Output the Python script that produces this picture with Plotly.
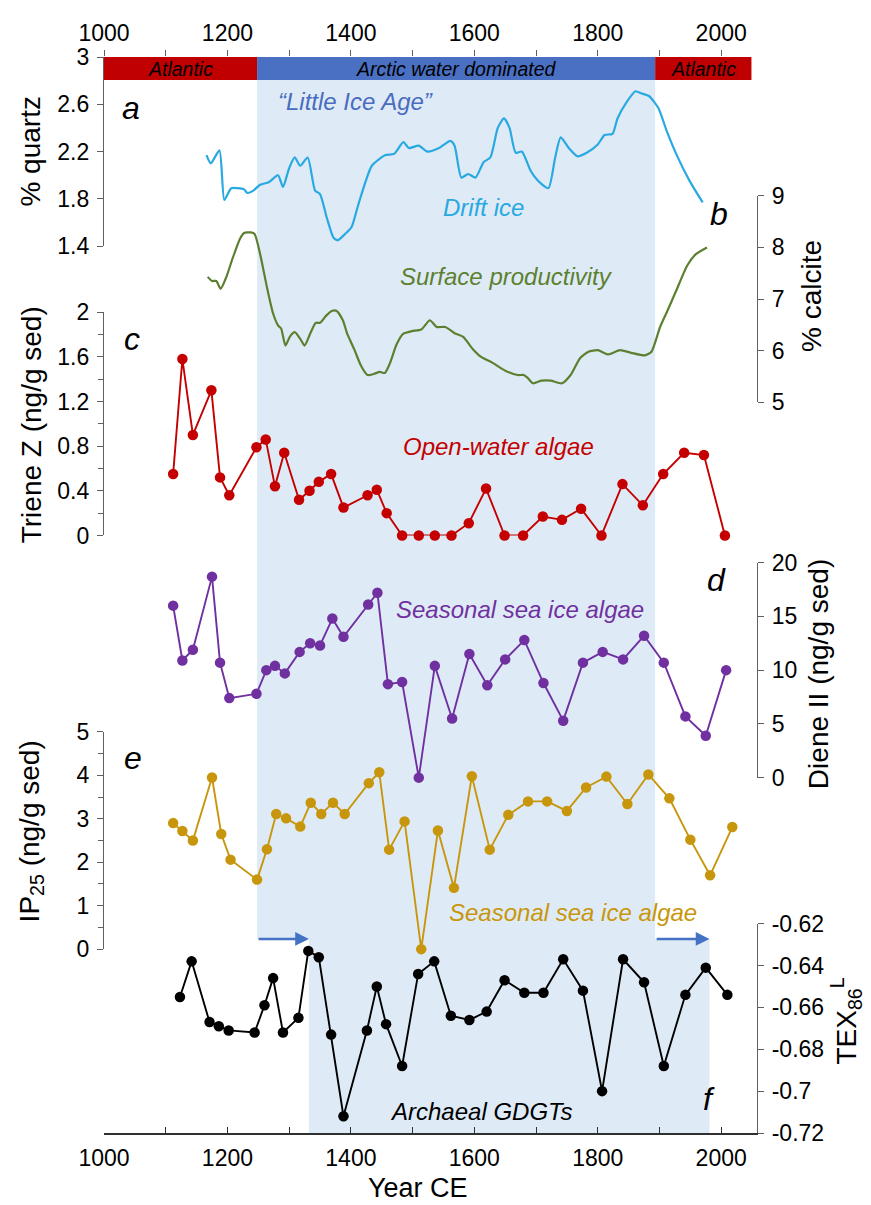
import plotly.graph_objects as go

# ---------------- data ----------------
drift_year = [1166,1173,1187,1195,1206,1216,1227,1232,1242,1253,1267,1282,1290,1300,1309,1318,1330,1342,1350,1361,1372,1379,1390,1401,1412,1434,1456,1470,1485,1494,1510,1524,1543,1561,1568,1579,1590,1602,1615,1626,1638,1648,1657,1667,1677,1691,1702,1720,1731,1740,1753,1767,1782,1800,1811,1824,1832,1847,1861,1872,1883,1898,1912,1927,1949,1970]
drift_quartz = [2.17,2.10,2.21,1.79,1.89,1.89,1.88,1.85,1.87,1.92,1.94,2.00,1.90,2.06,2.15,2.08,2.15,1.87,1.84,1.64,1.47,1.45,1.50,1.56,1.75,2.08,2.17,2.18,2.28,2.23,2.25,2.20,2.23,2.29,2.25,1.98,2.01,1.98,2.11,2.15,2.40,2.48,2.40,2.19,2.20,2.04,1.96,1.89,2.15,2.32,2.23,2.16,2.19,2.26,2.34,2.35,2.48,2.62,2.71,2.69,2.67,2.57,2.37,2.18,1.95,1.77]

prod_year = [1168,1175,1182,1189,1198,1209,1220,1227,1238,1244,1253,1264,1274,1282,1287,1294,1301,1309,1318,1325,1334,1343,1350,1360,1369,1377,1387,1394,1405,1416,1427,1437,1447,1455,1463,1474,1485,1499,1514,1528,1539,1553,1568,1582,1597,1611,1629,1651,1670,1680,1686,1695,1709,1724,1742,1756,1771,1785,1800,1817,1836,1854,1876,1887,1901,1912,1927,1945,1959,1977]
prod_calcite = [7.43,7.35,7.35,7.20,7.42,7.81,8.16,8.28,8.29,8.26,7.87,7.23,6.72,6.49,6.43,6.10,6.27,6.36,6.23,6.10,6.33,6.54,6.54,6.68,6.77,6.77,6.59,6.33,6.04,5.72,5.53,5.55,5.59,5.57,5.75,6.12,6.33,6.38,6.41,6.59,6.46,6.46,6.34,6.27,6.04,5.88,5.77,5.61,5.53,5.53,5.48,5.37,5.42,5.42,5.37,5.53,5.85,5.98,6.01,5.93,6.01,5.96,5.91,5.98,6.46,6.75,7.16,7.65,7.87,8.00]

triene_year = [1112,1127,1144,1174,1188,1203,1247,1262,1277,1292,1316,1333,1348,1368,1388,1427,1442,1458,1483,1510,1536,1563,1591,1619,1649,1679,1711,1742,1773,1806,1840,1873,1906,1940,1972,2006]
triene_z = [0.55,1.58,0.90,1.30,0.52,0.36,0.79,0.86,0.44,0.74,0.32,0.40,0.48,0.55,0.25,0.36,0.41,0.20,0,0,0,0,0.11,0.42,0,0,0.17,0.14,0.24,0,0.46,0.27,0.55,0.74,0.72,0]

diene_year = [1112,1127,1144,1175,1188,1203,1247,1263,1277,1293,1317,1334,1350,1370,1388,1428,1443,1460,1483,1510,1536,1564,1592,1621,1650,1681,1712,1744,1776,1808,1841,1875,1907,1942,1975,2008]
diene_ii = [16.0,10.9,11.9,18.7,10.7,7.4,7.8,10.0,10.4,9.7,11.7,12.5,12.3,14.8,13.1,16.1,17.2,8.7,8.9,0,10.4,5.5,11.5,8.6,11.0,12.8,8.8,5.3,10.7,11.7,11.0,13.2,10.7,5.7,3.9,10.0]

ip25_year = [1112,1127,1144,1175,1190,1205,1248,1264,1279,1295,1318,1335,1352,1371,1390,1429,1446,1462,1487,1514,1541,1567,1596,1625,1655,1687,1718,1750,1781,1814,1848,1882,1916,1950,1982,2018]
ip25 = [2.90,2.72,2.50,3.95,2.65,2.06,1.60,2.30,3.11,3.01,2.82,3.37,3.11,3.37,3.11,3.82,4.07,2.29,2.94,0,2.73,1.41,3.98,2.29,3.09,3.40,3.40,3.18,3.72,3.97,3.34,4.02,3.47,2.52,1.70,2.81]

tex_year = [1123,1142,1171,1186,1202,1244,1260,1274,1290,1315,1331,1348,1368,1388,1426,1442,1457,1483,1509,1535,1562,1592,1620,1649,1681,1712,1744,1776,1807,1841,1875,1907,1942,1975,2010]
tex86l = [-0.655,-0.638,-0.667,-0.669,-0.671,-0.672,-0.659,-0.646,-0.672,-0.665,-0.633,-0.636,-0.673,-0.712,-0.671,-0.650,-0.668,-0.688,-0.644,-0.638,-0.664,-0.666,-0.662,-0.647,-0.653,-0.653,-0.637,-0.652,-0.700,-0.637,-0.648,-0.688,-0.654,-0.641,-0.654]

period_start = [1000, 1248, 1893]
period_end = [1248, 1893, 2049]
period_label = ["Atlantic", "Arctic water dominated", "Atlantic"]
lia_start, lia_end = 1248, 1893          # "Little Ice Age" (upper records)
lia_lag_start, lia_lag_end = 1332, 1981  # lagged shading for TEX86L

year_ticks = [1000, 1200, 1400, 1600, 1800, 2000]
year_ticklabels = ["1000", "1200", "1400", "1600", "1800", "2000"]
quartz_ticks = [1.4, 1.8, 2.2, 2.6, 3]
quartz_ticklabels = ["1.4", "1.8", "2.2", "2.6", "3"]
calcite_ticks = [5, 6, 7, 8, 9]
triene_ticks = [0, 0.4, 0.8, 1.2, 1.6, 2]
triene_ticklabels = ["0", "0.4", "0.8", "1.2", "1.6", "2"]
diene_ticks = [0, 5, 10, 15, 20]
ip25_ticks = [0, 1, 2, 3, 4, 5]
tex_ticks = [-0.72, -0.70, -0.68, -0.66, -0.64, -0.62]
tex_ticklabels = ["-0.72", "-0.7", "-0.68", "-0.66", "-0.64", "-0.62"]

# ---------------- styling ----------------
OFF = 8                       # default page margin of the html body
W, H = 871 - OFF, 1205 - OFF
L, R, T, B = 104 - OFF, 114, 52 - OFF, 72
PW, PH = W - L - R, H - T - B
FONT = "Liberation Sans, Arial, sans-serif"
AX = "#606060"
TICKF = 23

def px(xp):   # screen pixel -> paper x
    return (xp - OFF - L) / PW

def py(yp):   # screen pixel -> paper y
    return (H - B - (yp - OFF)) / PH

C_DRIFT = "#29a9e1"
C_PROD = "#5c8030"
C_RED = "#c40000"
C_PURP = "#7030a0"
C_GOLD = "#c8960c"
C_BLACK = "#000000"
C_SHADE = "#deebf6"
C_BAR_RED = "#c00000"
C_BAR_BLUE = "#4a70c4"

fig = go.Figure()

fig.add_trace(go.Scatter(x=drift_year, y=drift_quartz, mode="lines", yaxis="y",
                         line=dict(color=C_DRIFT, width=2.2, shape="spline", smoothing=0.6),
                         cliponaxis=False, showlegend=False))
fig.add_trace(go.Scatter(x=prod_year, y=prod_calcite, mode="lines", yaxis="y2",
                         line=dict(color=C_PROD, width=2.2, shape="spline", smoothing=0.6),
                         cliponaxis=False, showlegend=False))
for xs, ys, ax, col in [(triene_year, triene_z, "y3", C_RED),
                        (diene_year, diene_ii, "y4", C_PURP),
                        (ip25_year, ip25, "y5", C_GOLD),
                        (tex_year, tex86l, "y6", C_BLACK)]:
    fig.add_trace(go.Scatter(x=xs, y=ys, mode="lines+markers", yaxis=ax,
                             line=dict(color=col, width=1.9),
                             marker=dict(color=col, size=10.5),
                             cliponaxis=False, showlegend=False))
# dummy trace for top axis
fig.add_trace(go.Scatter(x=[1500], y=[None], xaxis="x2", yaxis="y", showlegend=False,
                         hoverinfo="skip"))

shapes = []
shapes.append(dict(type="rect", xref="x", yref="paper", x0=lia_start, x1=lia_end,
                   y0=py(938), y1=py(75), fillcolor=C_SHADE, line=dict(width=0), layer="below"))
shapes.append(dict(type="rect", xref="x", yref="paper", x0=lia_lag_start, x1=lia_lag_end,
                   y0=0, y1=py(938), fillcolor=C_SHADE, line=dict(width=0), layer="below"))
bar_cols = [C_BAR_RED, C_BAR_BLUE, C_BAR_RED]
for s, e, c in zip(period_start, period_end, bar_cols):
    shapes.append(dict(type="rect", xref="x", yref="paper", x0=s, x1=e,
                       y0=py(75), y1=py(52), fillcolor=c, line=dict(width=0), layer="below"))

ann = []
for s, e, lab in zip(period_start, period_end, period_label):
    ann.append(dict(x=(s + e) / 2, y=py(64), xref="x", yref="paper", text="<i>%s</i>" % lab,
                    showarrow=False, xanchor="center", yanchor="middle",
                    font=dict(family=FONT, size=19.5, color="black")))

def txt(x, y, t, size=24, color="black", xanchor="center", angle=0):
    ann.append(dict(x=px(x), y=py(y), xref="paper", yref="paper", text=t, showarrow=False,
                    xanchor=xanchor, yanchor="middle", textangle=angle,
                    font=dict(family=FONT, size=size, color=color)))

# panel letters
for (xx, yy, t) in [(131, 103, "a"), (719, 210, "b"), (132, 335, "c"), (716, 577, "d"),
                    (133, 756, "e"), (709, 1099, "f")]:
    txt(xx, yy, "<i>%s</i>" % t, size=32)

# series labels
txt(276, 97, "<i>\u201cLittle Ice Age\u201d</i>", 24, "#4a6cc0", xanchor="left")
txt(483, 203, "<i>Drift ice</i>", 24, C_DRIFT)
txt(506, 273, "<i>Surface productivity</i>", 24, C_PROD)
txt(498, 443, "<i>Open-water algae</i>", 24, C_RED)
txt(520, 607, "<i>Seasonal sea ice algae</i>", 24, C_PURP)
txt(573, 911, "<i>Seasonal sea ice algae</i>", 24, C_GOLD)
txt(481, 1111, "<i>Archaeal GDGTs</i>", 24, "black")

# axis titles
txt(31, 147, "% quartz", 28, angle=-90)
txt(812, 292, "% calcite", 28, angle=-90)
txt(31, 422, "Triene Z (ng/g sed)", 28, angle=-90)
txt(818, 672, "Diene II (ng/g sed)", 28, angle=-90)
txt(31, 830, "IP<sub>25</sub> (ng/g sed)", 28, angle=-90)
txt(846, 1020, "TEX<sub>86</sub><sup>L</sup>", 28, angle=-90)
txt(418, 1188, "Year CE", 27)

# arrows
for x0, x1 in [(lia_start, lia_lag_start), (lia_end, lia_lag_end)]:
    ann.append(dict(x=x1, y=py(938), xref="x", yref="paper", ax=x0, ay=0, axref="x",
                    ayref="pixel", showarrow=True, arrowhead=2, arrowsize=1.1,
                    arrowwidth=2.5, arrowcolor="#4472c4", text=""))

def yax(rng, top_px, bot_px, side, tickvals, ticktext=None, minor=None):
    d = dict(range=rng, domain=[py(bot_px), py(top_px)], side=side, anchor="x",
             showline=True, linecolor=AX, linewidth=1.2, ticks="outside", ticklen=6,
             tickcolor=AX, tickwidth=1.2, showgrid=False, zeroline=False,
             tickvals=tickvals, tickfont=dict(family=FONT, size=TICKF, color="black"),
             ticklabelstandoff=3, fixedrange=True)
    if ticktext is not None:
        d["ticktext"] = ticktext
    if minor is not None:
        d["minor"] = dict(dtick=minor, ticks="outside", ticklen=5, tickcolor=AX, tickwidth=1.2,
                          showgrid=False)
    return d

fig.update_layout(
    width=W, height=H,
    margin=dict(l=L, r=R, t=T, b=B),
    paper_bgcolor="white", plot_bgcolor="rgba(0,0,0,0)",
    font=dict(family=FONT, size=TICKF, color="black"),
    showlegend=False,
    xaxis=dict(range=[1000, 2058], domain=[0, 1], anchor="y6", side="bottom",
               showline=True, linecolor="#303030", linewidth=1.5,
               ticks="inside", ticklen=6, tickcolor="#303030", tickwidth=1.2,
               tickvals=year_ticks, ticktext=year_ticklabels, ticklabelstandoff=4,
               minor=dict(tick0=1000, dtick=100, ticks="inside", ticklen=6,
                          tickcolor="#303030", tickwidth=1.2, showgrid=False),
               tickfont=dict(family=FONT, size=TICKF, color="black"),
               showgrid=False, zeroline=False, fixedrange=True),
    xaxis2=dict(range=[1000, 2058], overlaying="x", anchor="y", side="top",
                showline=False, ticks="outside", ticklen=6, tickcolor=AX, tickwidth=1.2,
                tickvals=year_ticks, ticktext=year_ticklabels,
                minor=dict(tick0=1000, dtick=100, ticks="outside", ticklen=6,
                           tickcolor=AX, tickwidth=1.2, showgrid=False),
                tickfont=dict(family=FONT, size=TICKF, color="black"),
                showgrid=False, zeroline=False, fixedrange=True),
    yaxis=yax([1.4, 3.0], 52, 242, "left", quartz_ticks, quartz_ticklabels),
    yaxis2=yax([5, 9], 191.4, 399, "right", calcite_ticks),
    yaxis3=yax([0, 2], 308.3, 532.7, "left", triene_ticks, triene_ticklabels, minor=0.2),
    yaxis4=yax([0, 20], 560, 776, "right", diene_ticks),
    yaxis5=yax([0, 5], 730, 948.3, "left", ip25_ticks, minor=0.5),
    yaxis6=yax([-0.72, -0.62], 922.7, 1133, "right", tex_ticks, tex_ticklabels),
    shapes=shapes,
    annotations=ann,
)

fig.write_html("out.html")
